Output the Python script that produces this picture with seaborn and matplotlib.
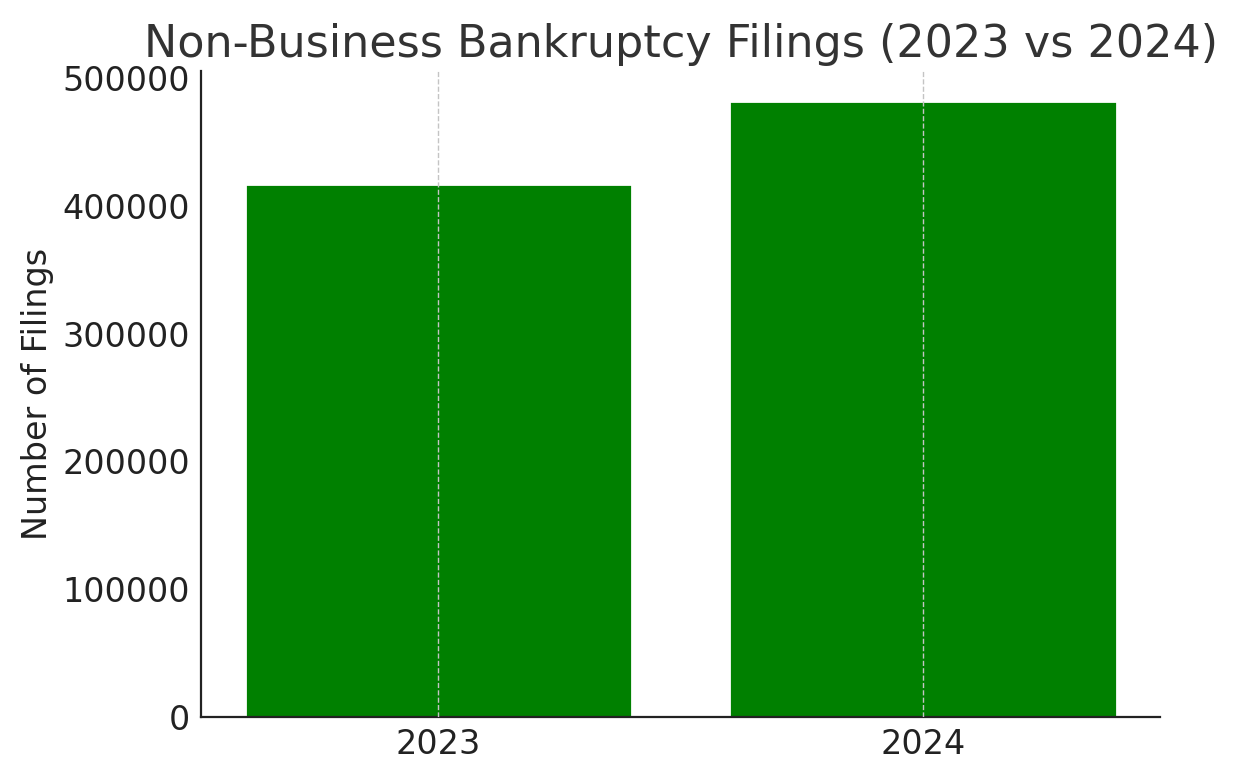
import matplotlib
matplotlib.use("Agg")
import matplotlib.pyplot as plt
import seaborn as sns
import pandas as pd

years = ["2023", "2024"]
filings = [416600, 481500]

sns.set_style("white")
plt.rcParams['font.family'] = ['DejaVu Sans']

df = pd.DataFrame({"Year": years, "Filings": filings})

fig = plt.figure(figsize=(6.185, 3.9), dpi=200)
ax = fig.add_axes([0.1625, 0.0805, 0.7755, 0.829])

sns.barplot(data=df, x="Year", y="Filings", color="green", saturation=1, width=0.8, ax=ax)
ax.set_xlim(-0.49, 1.49)
ax.set_ylim(0, max(filings) * 1.05)

ax.set_title("Non-Business Bankruptcy Filings (2023 vs 2024)", fontsize=16, color="#333333", pad=5)
ax.set_xlabel("")
ax.set_ylabel("Number of Filings", fontsize=12, color="#222222", labelpad=3)
ax.set_yticks([0, 100000, 200000, 300000, 400000, 500000])
ax.set_yticklabels(["0", "100000", "200000", "300000", "400000", "500000"])

# dashed vertical grid drawn over the bars
ax.grid(axis="x", linestyle="--", color="#c4c4c4", linewidth=0.5)
ax.set_axisbelow(False)

for side in ["top", "right"]:
    ax.spines[side].set_visible(False)
for side in ["left", "bottom"]:
    ax.spines[side].set_color("#222222")
    ax.spines[side].set_linewidth(0.8)

ax.tick_params(axis="both", direction="in", length=2.2, width=0.6, color="#222222",
               labelsize=12, labelcolor="#222222", pad=4)

fig.savefig("out.png", dpi=200)
